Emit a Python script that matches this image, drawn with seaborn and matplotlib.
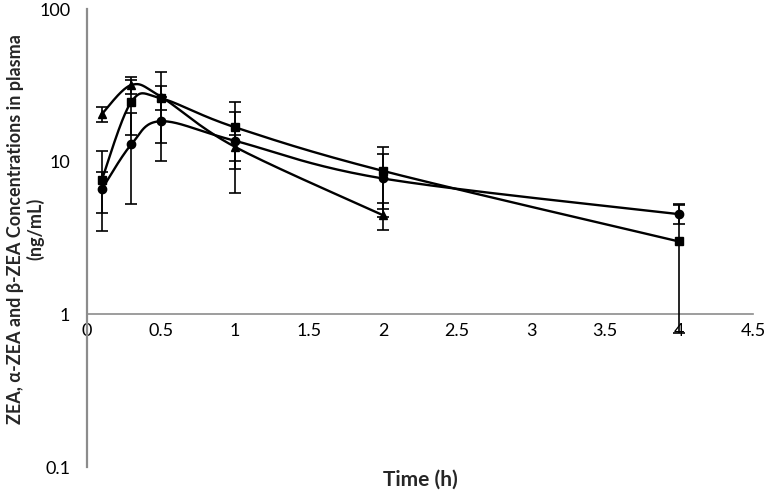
import numpy as np
import pandas as pd
import seaborn as sns
import matplotlib.pyplot as plt

# sampling times (h)
time = [0.1, 0.3, 0.5, 1, 2, 4]
time_tri = [0.1, 0.3, 0.5, 1, 2]

# mean plasma concentrations (ng/mL) and SD
tri_mean = [20.5, 31.8, 26.6, 12.5, 4.46]
tri_sd = [2.4, 4.2, 4.9, 2.4, 0.87]
sq_mean = [7.6, 24.7, 26.0, 16.8, 8.7, 3.0]
sq_sd = [4.1, 9.7, 12.8, 7.9, 3.8, 2.25]
circ_mean = [6.6, 13.0, 18.4, 13.7, 7.76, 4.53]
circ_sd = [2.0, 7.7, 8.3, 7.5, 3.4, 0.65]

x_ticks = [0, 0.5, 1, 1.5, 2, 2.5, 3, 3.5, 4, 4.5]
x_tick_labels = ['0', '0.5', '1', '1.5', '2', '2.5', '3', '3.5', '4', '4.5']
y_ticks = [0.1, 1, 10, 100]
y_tick_labels = ['0.1', '1', '10', '100']


def smooth_curve(x, y, n=40):
    # Excel style smoothed line: bezier segments in (x, log10 y) space
    pts = np.column_stack([np.asarray(x, float), np.log10(y)])
    out = []
    for i in range(len(pts) - 1):
        p0 = pts[i - 1] if i > 0 else pts[i]
        p1, p2 = pts[i], pts[i + 1]
        p3 = pts[i + 2] if i + 2 < len(pts) else pts[i + 1]
        c1 = p1 + (p2 - p0) / 6
        c2 = p2 - (p3 - p1) / 6
        t = np.linspace(0, 1, n)[:, None]
        seg = (1 - t) ** 3 * p1 + 3 * (1 - t) ** 2 * t * c1 + 3 * (1 - t) * t ** 2 * c2 + t ** 3 * p2
        out.append(seg if i == 0 else seg[1:])
    out = np.vstack(out)
    return out[:, 0], 10 ** out[:, 1]


series = [
    ('ZEA', time_tri, tri_mean, tri_sd, '^'),
    ('alpha', time, sq_mean, sq_sd, 's'),
    ('beta', time, circ_mean, circ_sd, 'o'),
]

sns.set_style('white')
plt.rcParams['font.family'] = ['Lato', 'DejaVu Sans']

fig = plt.figure(figsize=(7.66, 4.92), dpi=100)
ax = fig.add_axes([0.1136, 0.0508, 0.8694, 0.9309])

for name, t, m, sd, mk in series:
    sx, sy = smooth_curve(t, m)
    curve = pd.DataFrame({'t': sx, 'c': sy})
    sns.lineplot(data=curve, x='t', y='c', sort=False, estimator=None,
                 color='black', linewidth=1.7, ax=ax)
    ax.errorbar(t, m, yerr=sd, fmt=mk, color='black', markersize=6,
                elinewidth=1.2, capsize=4, capthick=1.2, zorder=3)

ax.set_yscale('log')
ax.set_xlim(0, 4.5)
ax.set_ylim(0.1, 100)
ax.set_xticks(x_ticks)
ax.set_xticklabels(x_tick_labels)
ax.set_yticks(y_ticks)
ax.set_yticklabels(y_tick_labels)
ax.minorticks_off()
ax.tick_params(axis='both', length=0, labelsize=13, colors='black')
ax.tick_params(axis='x', pad=6)
ax.tick_params(axis='y', pad=12)

ax.spines['top'].set_visible(False)
ax.spines['right'].set_visible(False)
ax.spines['bottom'].set_position(('data', 1))
ax.spines['bottom'].set_color('#8c8c8c')
ax.spines['bottom'].set_linewidth(1.2)
ax.spines['left'].set_color('#8c8c8c')
ax.spines['left'].set_linewidth(1.6)

ax.set_xlabel('Time (h)', fontsize=15, fontweight='bold')
ax.xaxis.set_label_coords(0.5, -0.005)
ax.set_ylabel('ZEA, α-ZEA and β-ZEA Concentrations in plasma\n(ng/mL)',
              fontsize=13, fontweight='bold', linespacing=1.15)
ax.yaxis.set_label_coords(-0.064, 0.52)

plt.savefig('out.png', dpi=100)
